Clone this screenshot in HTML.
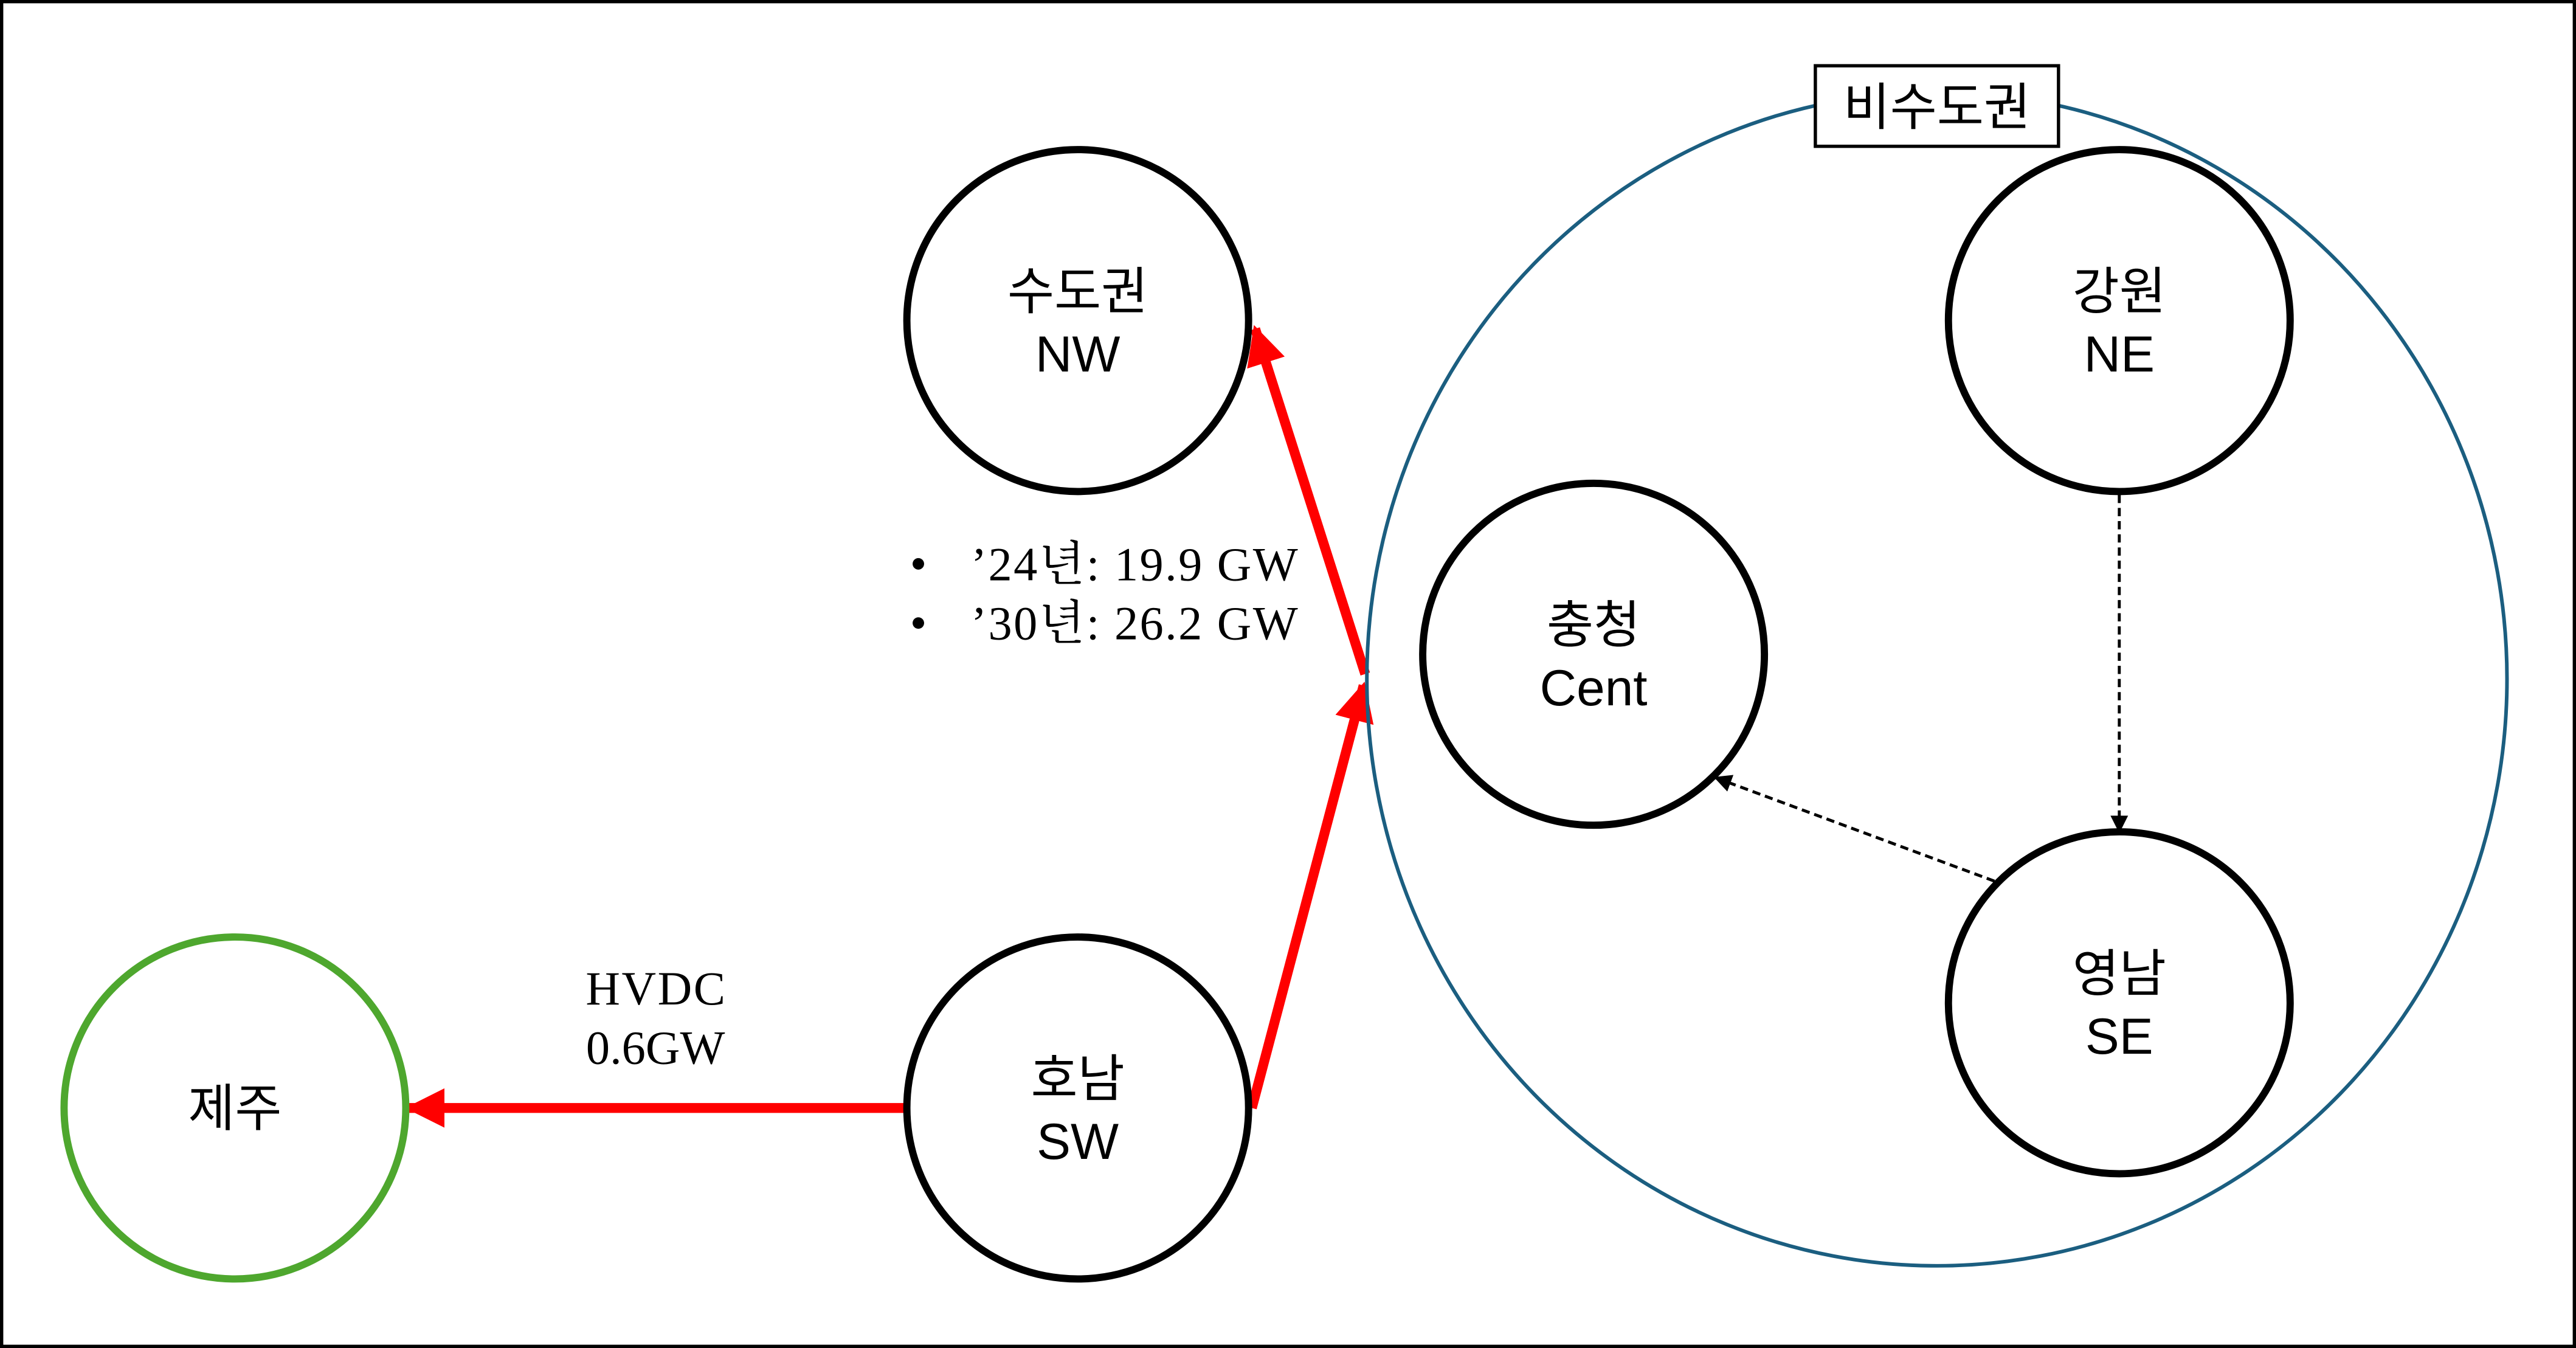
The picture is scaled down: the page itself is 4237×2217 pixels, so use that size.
<!DOCTYPE html>
<html><head><meta charset="utf-8"><style>
html,body{margin:0;padding:0;background:#fff;}
svg{display:block;}
.k{font-family:"Liberation Sans","Noto Sans CJK KR",sans-serif;font-size:31px;text-anchor:middle;fill:#000;}
.s{font-family:"Liberation Serif","Noto Serif CJK SC",serif;font-size:29px;fill:#000;}
</style></head><body>
<svg width="4237" height="2217" viewBox="0 0 1568 820" preserveAspectRatio="none" xmlns="http://www.w3.org/2000/svg">
<defs>
<marker id="ar" markerWidth="4" markerHeight="4" refX="3.6" refY="2" orient="auto" markerUnits="strokeWidth"><path d="M0,0 L4,2 L0,4 Z" fill="#f00"/></marker>
<marker id="ad" markerWidth="6" markerHeight="6" refX="5.5" refY="3" orient="auto" markerUnits="strokeWidth"><path d="M0,0 L6,3 L0,6 Z" fill="#000"/></marker>
</defs>
<rect x="1" y="1" width="1566" height="818" fill="#fff" stroke="#000" stroke-width="2"/>
<line x1="762" y1="674" x2="830" y2="417" stroke="#f00" stroke-width="6" marker-end="url(#ar)"/>
<line x1="831" y1="410" x2="764" y2="200" stroke="#f00" stroke-width="6" marker-end="url(#ar)"/>
<ellipse cx="1179" cy="413" rx="347" ry="357" fill="none" stroke="#1b5e80" stroke-width="2.2"/>
<rect x="1105" y="40" width="148" height="49" fill="#fff" stroke="#000" stroke-width="2"/>
<text class="k" x="1179" y="76">비수도권</text>
<line x1="552" y1="674" x2="249" y2="674" stroke="#f00" stroke-width="6" marker-end="url(#ar)"/>
<line x1="1290" y1="301" x2="1290" y2="506" stroke="#000" stroke-width="1.8" stroke-dasharray="5,3" marker-end="url(#ad)"/>
<line x1="1214" y1="536" x2="1044" y2="473" stroke="#000" stroke-width="1.8" stroke-dasharray="5,3" marker-end="url(#ad)"/>
<g fill="#fff" stroke="#000" stroke-width="4.4">
<circle cx="656" cy="195" r="104"/>
<circle cx="1290" cy="195" r="104"/>
<circle cx="970" cy="398" r="104"/>
<circle cx="1290" cy="610" r="104"/>
<circle cx="656" cy="674" r="104"/>
<circle cx="143" cy="674" r="104" stroke="#4ea72e"/>
</g>
<text class="k" x="656" y="188">수도권</text><text class="k" x="656" y="226">NW</text>
<text class="k" x="1290" y="188">강원</text><text class="k" x="1290" y="226">NE</text>
<text class="k" x="970" y="391">충청</text><text class="k" x="970" y="429">Cent</text>
<text class="k" x="1290" y="603">영남</text><text class="k" x="1290" y="641">SE</text>
<text class="k" x="656" y="667">호남</text><text class="k" x="656" y="705">SW</text>
<text class="k" x="143" y="685">제주</text>
<text class="s" x="399" y="611" text-anchor="middle" textLength="85">HVDC</text>
<text class="s" x="399" y="647" text-anchor="middle">0.6GW</text>
<circle cx="559" cy="343" r="3.5" fill="#000"/>
<circle cx="559" cy="379" r="3.5" fill="#000"/>
<text class="s" x="591" y="353" textLength="199">’24년: 19.9 GW</text>
<text class="s" x="591" y="389" textLength="199">’30년: 26.2 GW</text>
</svg>
</body></html>
